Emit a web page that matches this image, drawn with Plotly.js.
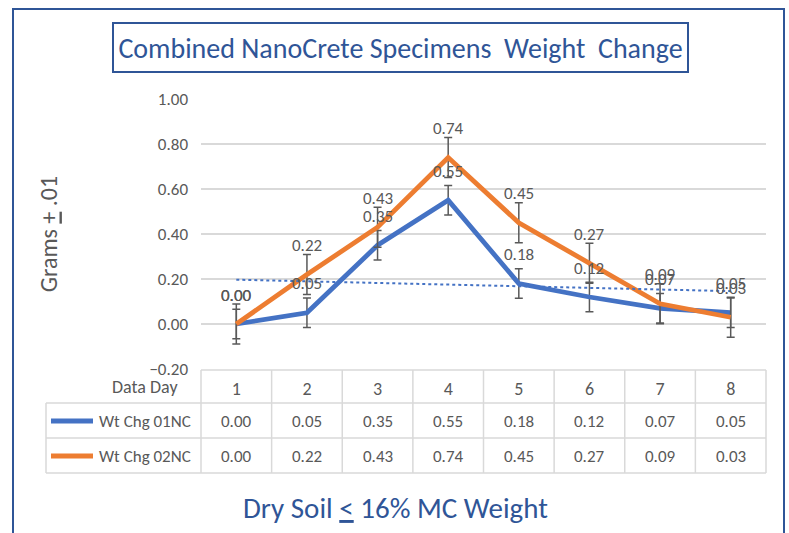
<!DOCTYPE html>
<html>
<head>
<meta charset="utf-8">
<script src="https://cdn.plot.ly/plotly-3.0.1.min.js"></script>
<style>html,body{margin:0;padding:0;background:#fff;}#chart{width:789px;height:533px;}</style>
</head>
<body>
<div id="chart"></div>
<script>
// ---- data ----
const days = ['1', '2', '3', '4', '5', '6', '7', '8'];
const seriesNames = ['Wt Chg 01NC', 'Wt Chg 02NC'];
const wtChg01 = [0.00, 0.05, 0.35, 0.55, 0.18, 0.12, 0.07, 0.05];
const wtChg02 = [0.00, 0.22, 0.43, 0.74, 0.45, 0.27, 0.09, 0.03];
const err01 = 0.066;   // +/- error bar of series 1
const err02 = 0.089;   // +/- error bar of series 2
const trendDays = ['1', '8'];
const trendVals = [0.197, 0.146];  // dotted linear trend of series 1
const yTickVals = [-0.2, 0, 0.2, 0.4, 0.6, 0.8, 1.0];

const FONT = "Carlito, Lato, sans-serif";
const GRAY = '#595959';
const BLUE = '#4472C4';
const ORANGE = '#ED7D31';
const FRAME = '#2F5597';
const TBL = '#D9D9D9';

// pixel helpers for decoration (plot area 201..766 x 99..369)
const L = 201, R = 23, T = 99, B = 164, W = 789, H = 533;
const PW = W - L - R, PH = H - T - B;
const px = v => (v - L) / PW;
const py = v => (H - B - v) / PH;

const traces = [
  {
    x: days, y: wtChg01, type: 'scatter', mode: 'lines', name: seriesNames[0],
    line: {color: BLUE, width: 4.8, shape: 'linear'},
    error_y: {type: 'constant', value: err01, color: GRAY, thickness: 1.5, width: 4},
    hoverinfo: 'skip'
  },
  {
    x: days, y: wtChg02, type: 'scatter', mode: 'lines', name: seriesNames[1],
    line: {color: ORANGE, width: 4.8},
    error_y: {type: 'constant', value: err02, color: GRAY, thickness: 1.5, width: 4},
    hoverinfo: 'skip'
  },
  {
    x: trendDays, y: trendVals, type: 'scatter', mode: 'lines', name: 'Linear (Wt Chg 01NC)',
    line: {color: BLUE, width: 2, dash: 'dot'}, hoverinfo: 'skip'
  }
];

const annotations = [];
// data labels (x given as category index)
[wtChg01, wtChg02].forEach(arr => {
  arr.forEach((v, i) => {
    annotations.push({x: i, y: v, xref: 'x', yref: 'y', text: v.toFixed(2),
      xanchor: 'center', yanchor: 'middle',
      showarrow: false, yshift: 29, font: {family: FONT, size: 17, color: GRAY}});
  });
});
// data table
annotations.push({x: px(180), y: py(387), xref: 'paper', yref: 'paper', xanchor: 'right', yanchor: 'middle',
  text: 'Data Day', showarrow: false, font: {family: FONT, size: 18, color: GRAY}});
const rowY = [py(421), py(456)];
[wtChg01, wtChg02].forEach((arr, r) => {
  annotations.push({x: px(193), y: rowY[r], xref: 'paper', yref: 'paper', xanchor: 'right', yanchor: 'middle',
    text: seriesNames[r], showarrow: false, font: {family: FONT, size: 17, color: GRAY}});
  arr.forEach((v, i) => {
    annotations.push({x: i, y: rowY[r], xref: 'x', yref: 'paper', xanchor: 'center', yanchor: 'middle',
      text: v.toFixed(2), showarrow: false, font: {family: FONT, size: 17, color: GRAY}});
  });
});
// bottom (category axis) title, centred on the whole chart like the reference
annotations.push({x: px(395), y: py(508), xref: 'paper', yref: 'paper', xanchor: 'center', yanchor: 'middle',
  text: 'Dry Soil <u>&lt;</u> 16% MC Weight', showarrow: false, font: {family: FONT, size: 29, color: FRAME}});

const shapes = [];
// outer frame
shapes.push({type: 'rect', xref: 'paper', yref: 'paper', x0: px(13), x1: px(784), y0: py(9), y1: py(560),
  line: {color: FRAME, width: 2}});
// title box
shapes.push({type: 'rect', xref: 'paper', yref: 'paper', x0: px(113), x1: px(688), y0: py(23), y1: py(72),
  line: {color: FRAME, width: 2}});
// table horizontals
shapes.push({type: 'line', xref: 'paper', yref: 'paper', x0: 0, x1: 1, y0: py(370), y1: py(370), line: {color: TBL, width: 1.5}});
[403, 438, 473].forEach(yy => shapes.push({type: 'line', xref: 'paper', yref: 'paper',
  x0: px(46), x1: 1, y0: py(yy), y1: py(yy), line: {color: TBL, width: 1.5}}));
// table verticals at category boundaries
for (let k = 0; k <= days.length; k++) {
  shapes.push({type: 'line', xref: 'paper', yref: 'paper', x0: k / days.length, x1: k / days.length,
    y0: py(370), y1: py(473), line: {color: TBL, width: 1.5}});
}
shapes.push({type: 'line', xref: 'paper', yref: 'paper', x0: px(46), x1: px(46),
  y0: py(403), y1: py(473), line: {color: TBL, width: 1.5}});
// legend keys
[BLUE, ORANGE].forEach((c, r) => shapes.push({type: 'line', xref: 'paper', yref: 'paper',
  x0: px(51), x1: px(93), y0: rowY[r], y1: rowY[r], line: {color: c, width: 5}}));

const layout = {
  width: W, height: H,
  margin: {l: L, r: R, t: T, b: B, pad: 0},
  paper_bgcolor: '#fff', plot_bgcolor: '#fff',
  showlegend: false,
  font: {family: FONT, color: GRAY},
  title: {
    text: 'Combined NanoCrete Specimens&nbsp; Weight&nbsp; Change',
    font: {family: FONT, size: 28, color: FRAME},
    x: 400.5 / W, xref: 'container', xanchor: 'center',
    y: 1 - 48 / H, yref: 'container', yanchor: 'middle'
  },
  xaxis: {
    type: 'category', range: [-0.5, 7.5], showgrid: false, zeroline: false, showline: false,
    ticks: '', tickfont: {family: FONT, size: 18, color: GRAY}, ticklabelstandoff: 7
  },
  yaxis: {
    range: [-0.2, 1.0], tickvals: yTickVals, tickformat: '.2f',
    showgrid: true, gridcolor: TBL, gridwidth: 1.5, zeroline: false, showline: false,
    ticks: '', tickfont: {family: FONT, size: 17, color: GRAY}, ticklabelstandoff: 12,
    title: {text: 'Grams <u>+</u> .01', font: {family: FONT, size: 24, color: GRAY}, standoff: 84}
  },
  annotations: annotations,
  shapes: shapes
};

Plotly.newPlot('chart', traces, layout, {displayModeBar: false, staticPlot: true});
</script>
</body>
</html>
